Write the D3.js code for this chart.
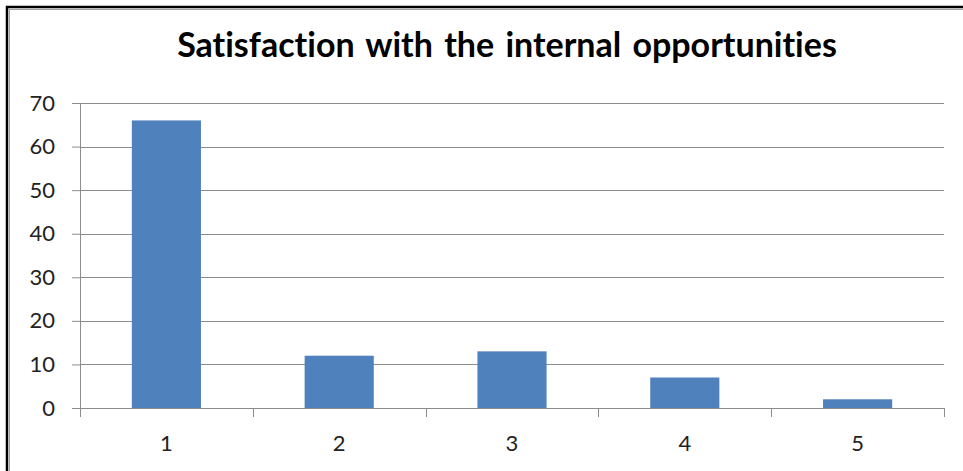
<!DOCTYPE html>
<html>
<head>
<meta charset="utf-8">
<script src="https://cdn.jsdelivr.net/npm/d3@7"></script>
<style>
  html, body { margin: 0; padding: 0; background: #fff; }
  svg { display: block; }
  text { font-variant-ligatures: none; font-feature-settings: "liga" 0; }
</style>
</head>
<body>
<svg id="chart" width="963" height="471"></svg>
<script>
// Survey answers: rating 1..5 and how many respondents picked each
const categories = ["1", "2", "3", "4", "5"];
const counts = [66, 12, 13, 7, 2];
const yTicks = [0, 10, 20, 30, 40, 50, 60, 70];
const chartTitle = "Satisfaction with the internal opportunities";

const W = 963, H = 471;
const margin = { top: 103, right: 19, bottom: 63, left: 80 };
const svg = d3.select("#chart");
const font = "Lato, 'Open Sans', sans-serif";
const gridColor = "#8c8c8c";

// frame around the chart object
svg.append("rect").attr("x", 9.5).attr("y", 9.5).attr("width", W).attr("height", H)
  .attr("fill", "none").attr("stroke", "#a0a0a0").attr("stroke-width", 1);
svg.append("rect").attr("x", 7).attr("y", 7).attr("width", W + 10).attr("height", H + 10)
  .attr("fill", "none").attr("stroke", "#000").attr("stroke-width", 2.5);

const x = d3.scaleBand().domain(categories)
  .range([margin.left, W - margin.right])
  .paddingInner(0.6).paddingOuter(0.3);
const y = d3.scaleLinear().domain([0, 70]).range([H - margin.bottom, margin.top]);

// value axis with short tick stubs to its left
const yAxis = d3.axisLeft(y).tickValues(yTicks).tickSize(8).tickPadding(17);
const gy = svg.append("g").attr("transform", `translate(${margin.left},0)`).call(yAxis);
gy.select(".domain").attr("stroke", gridColor);
gy.selectAll(".tick line").attr("stroke", gridColor);
gy.selectAll(".tick text").attr("font-family", font).attr("font-size", 22).attr("fill", "#222");

// horizontal gridlines
svg.append("g").selectAll("line").data(yTicks.filter(v => v > 0)).join("line")
  .attr("x1", margin.left).attr("x2", W - margin.right)
  .attr("y1", d => Math.round(y(d)) + 0.5).attr("y2", d => Math.round(y(d)) + 0.5)
  .attr("stroke", gridColor).attr("stroke-width", 1);

// bars
svg.append("g").selectAll("rect").data(counts).join("rect")
  .attr("x", (d, i) => x(categories[i]))
  .attr("y", d => y(d))
  .attr("width", x.bandwidth())
  .attr("height", d => y(0) - y(d))
  .attr("fill", "#4f81bd");

// category axis: boundaries between categories carry the tick marks
const step = x.step();
const bounds = d3.range(categories.length + 1).map(i => margin.left + i * step);
const gx = svg.append("g");
gx.append("line").attr("x1", margin.left).attr("x2", W - margin.right)
  .attr("y1", y(0) + 0.5).attr("y2", y(0) + 0.5).attr("stroke", gridColor);
gx.selectAll("line.tk").data(bounds).join("line").attr("class", "tk")
  .attr("x1", d => Math.round(d) + 0.5).attr("x2", d => Math.round(d) + 0.5)
  .attr("y1", y(0)).attr("y2", y(0) + 9).attr("stroke", gridColor);
gx.selectAll("text").data(categories).join("text")
  .attr("x", d => x(d) + x.bandwidth() / 2)
  .attr("y", y(0) + 43)
  .attr("text-anchor", "middle")
  .attr("font-family", font).attr("font-size", 22).attr("fill", "#222")
  .text(d => d);

// title
svg.append("text")
  .attr("x", 507).attr("y", 57)
  .attr("text-anchor", "middle")
  .attr("font-family", font).attr("font-weight", "bold").attr("font-size", 34)
  .attr("word-spacing", 3)
  .attr("fill", "#000")
  .text(chartTitle);
</script>
</body>
</html>
